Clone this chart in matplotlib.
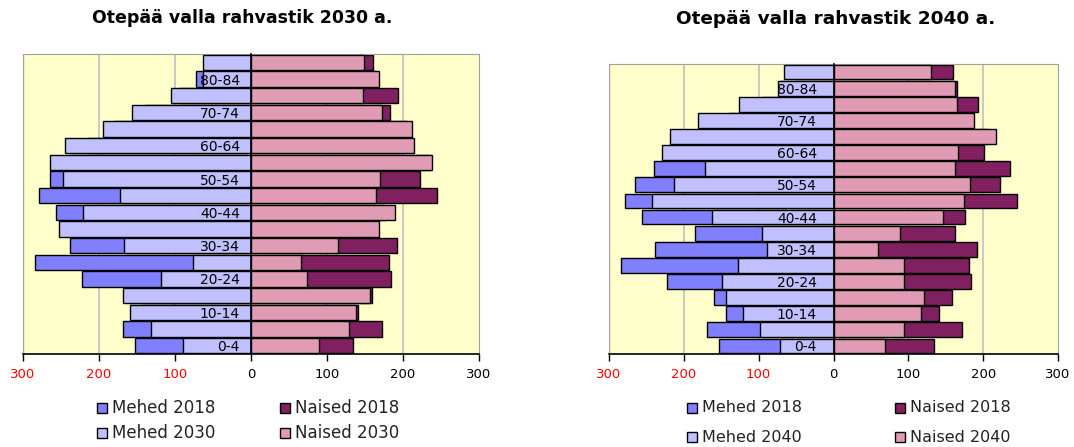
import matplotlib
matplotlib.use("Agg")
import matplotlib.pyplot as plt
from matplotlib.patches import Rectangle

W, H = 1074, 447
DPI = 100

# Age groups, bottom to top
ages = ["0-4", "5-9", "10-14", "15-19", "20-24", "25-29", "30-34", "35-39", "40-44",
        "45-49", "50-54", "55-59", "60-64", "65-69", "70-74", "75-79", "80-84", "85+"]
shown_labels = ["0-4", "10-14", "20-24", "30-34", "40-44", "50-54", "60-64", "70-74", "80-84"]

# 2018 (bottom to top)
mehed_2018 = [153, 169, 144, 160, 222, 284, 238, 185, 256, 279, 265, 240, 215, 180, 140, 95, 72, 50]
naised_2018 = [134, 172, 141, 159, 184, 181, 192, 162, 176, 245, 223, 236, 201, 205, 183, 193, 165, 160]

# 2030 projection
mehed_2030 = [90, 132, 159, 168, 119, 76, 167, 253, 221, 173, 247, 265, 245, 195, 157, 105, 63, 63]
naised_2030 = [90, 129, 138, 156, 74, 66, 114, 169, 190, 165, 170, 238, 215, 212, 173, 147, 169, 149]

# 2040 projection
mehed_2040 = [71, 98, 121, 143, 149, 128, 89, 96, 163, 242, 213, 172, 229, 218, 181, 126, 74, 66]
naised_2040 = [69, 94, 117, 121, 94, 94, 59, 89, 146, 174, 183, 163, 167, 217, 188, 165, 163, 130]

xticks = [-300, -200, -100, 0, 100, 200, 300]

C_M18 = "#8080FF"
C_M_NEW = "#C0C0FF"
C_N18 = "#802060"
C_N_NEW = "#E09CB4"
BG = "#FFFFCC"

fig = plt.figure(figsize=(W / DPI, H / DPI), dpi=DPI)


def px_axes(x0, x1, ytop, ybot):
    return fig.add_axes([x0 / W, (H - ybot) / H, (x1 - x0) / W, (ybot - ytop) / H])


def pyramid(ax, m_new, n_new, label_pad):
    y = list(range(len(ages)))
    h = 0.92
    ax.set_facecolor(BG)
    for gx in [-200, -100, 100, 200]:
        ax.axvline(gx, color="#C0C0C0", lw=1.2, zorder=0.5)
    ax.barh(y, [-v for v in mehed_2018], height=h, color=C_M18, edgecolor="black", lw=1.0, zorder=2)
    ax.barh(y, naised_2018, height=h, color=C_N18, edgecolor="black", lw=1.0, zorder=2)
    ax.barh(y, [-v for v in m_new], height=h, color=C_M_NEW, edgecolor="black", lw=1.0, zorder=3)
    ax.barh(y, n_new, height=h, color=C_N_NEW, edgecolor="black", lw=1.0, zorder=3)
    ax.set_xlim(-300, 300)
    ax.set_ylim(-0.5, len(ages) - 0.5)
    ax.set_xticks(xticks)
    ax.set_xticklabels([str(abs(t)) for t in xticks], fontsize=9.5)
    for t, lab in zip(xticks, ax.get_xticklabels()):
        lab.set_color("red" if t < 0 else "black")
    ax.tick_params(axis="x", length=5, width=1, direction="out", pad=5, color="black")
    ax.set_yticks(y)
    ax.set_yticklabels([a if a in shown_labels else "" for a in ages], fontsize=9.5)
    ax.tick_params(axis="y", length=0, pad=label_pad)
    ax.yaxis.set_zorder(6)
    ax.spines["left"].set_position(("data", 0))
    ax.spines["left"].set_color("black")
    ax.spines["left"].set_linewidth(1.2)
    ax.spines["left"].set_zorder(4)
    ax.spines["bottom"].set_color("black")
    ax.spines["bottom"].set_linewidth(1.2)
    ax.spines["top"].set_color("#A0A0A0")
    ax.spines["right"].set_color("#A0A0A0")
    ax.axvline(-300, color="#A0A0A0", lw=1.0, zorder=1)


ax1 = px_axes(23, 479, 54, 354)
pyramid(ax1, mehed_2030, naised_2030, label_pad=8)
ax2 = px_axes(609, 1058, 64, 354)
pyramid(ax2, mehed_2040, naised_2040, label_pad=12)

fig.text(242 / W, 1 - 18 / H, "Otepää valla rahvastik 2030 a.", ha="center", va="center",
         fontsize=12.5, fontweight="bold")
fig.text(836 / W, 1 - 19 / H, "Otepää valla rahvastik 2040 a.", ha="center", va="center",
         fontsize=13.3, fontweight="bold")


def legend_item(x, y, color, text, fs):
    s = 10
    fig.patches.append(Rectangle(((x) / W, (H - y - s / 2) / H), s / W, s / H,
                                 transform=fig.transFigure, facecolor=color,
                                 edgecolor="black", lw=1.0))
    fig.text((x + s + 5) / W, 1 - y / H, text, ha="left", va="center", fontsize=fs, color="#222222")


legend_item(97, 408, C_M18, "Mehed 2018", 12)
legend_item(97, 433, C_M_NEW, "Mehed 2030", 12)
legend_item(280, 408, C_N18, "Naised 2018", 12)
legend_item(280, 433, C_N_NEW, "Naised 2030", 12)

legend_item(687, 408, C_M18, "Mehed 2018", 11.5)
legend_item(687, 437, C_M_NEW, "Mehed 2040", 11.5)
legend_item(895, 408, C_N18, "Naised 2018", 11.5)
legend_item(895, 437, C_N_NEW, "Naised 2040", 11.5)

fig.savefig("out.png", dpi=DPI)
